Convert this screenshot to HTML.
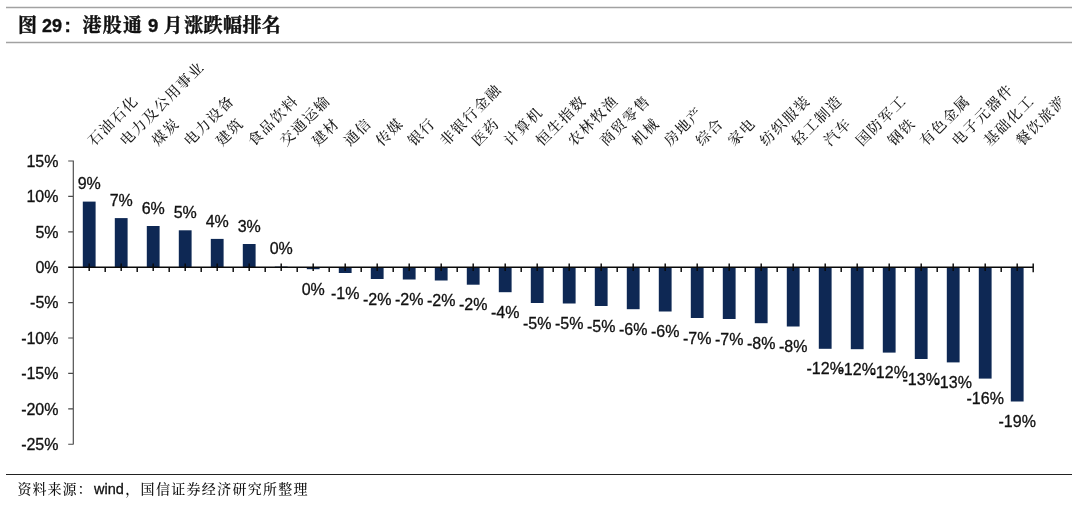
<!DOCTYPE html>
<html lang="zh">
<head>
<meta charset="utf-8">
<title>图 29: 港股通 9 月涨跌幅排名</title>
<style>
html,body{margin:0;padding:0;background:#fff;}
body{width:1080px;height:505px;position:relative;overflow:hidden;font-family:"Liberation Sans","Noto Serif CJK SC",sans-serif;color:#111;}
.title{position:absolute;left:0;top:12px;height:24px;line-height:24px;font-size:18px;font-weight:bold;white-space:nowrap;color:#111;}
.title span{position:absolute;top:0;-webkit-text-stroke:0.35px #111;}
.title .zh{font-family:"Noto Serif CJK SC",serif;font-weight:700;font-size:19px;letter-spacing:0.4px;-webkit-text-stroke:0.4px #111;}
.src{position:absolute;left:17.6px;top:478px;height:20px;line-height:20px;font-size:14.5px;white-space:nowrap;color:#111;}
.src .zh{font-family:"Noto Serif CJK SC",serif;font-size:14px;letter-spacing:1px;font-weight:500;}
.src .en{-webkit-text-stroke:0.3px #111;}
svg{position:absolute;left:0;top:0;}
.bars rect{fill:#0e2854;}
.ax{stroke:#0a0a0a;stroke-width:1.45;fill:none;}
.ay{stroke:#4a4a4a;stroke-width:1.15;fill:none;}
.val text{font-family:"Liberation Sans",sans-serif;font-size:16px;fill:#111;stroke:#111;stroke-width:0.3px;text-anchor:middle;}
.yl text{font-family:"Liberation Sans",sans-serif;font-size:16px;fill:#111;stroke:#111;stroke-width:0.3px;text-anchor:end;}
.cat text{font-family:"Noto Serif CJK SC",serif;font-size:14.5px;letter-spacing:1.5px;fill:#1c1c1c;font-weight:500;}
</style>
</head>
<body>
<div class="title"><span class="zh" style="left:18px">图</span><span style="left:42px;top:1.5px">29</span><span style="left:64.5px;top:1.5px;font-size:19px">:</span><span class="zh" style="left:82.5px;letter-spacing:1.2px">港股通</span><span style="left:148px;top:1.5px;font-size:18.5px">9</span><span class="zh" style="left:163.5px">月</span><span class="zh" style="left:184.2px">涨跌幅排名</span></div>
<svg width="1080" height="505" viewBox="0 0 1080 505">
<path d="M6 7.4H1072M6 42.4H1072" stroke="#a2a2a2" stroke-width="1.5" fill="none"/>
<path d="M6 474.4H1072" stroke="#222" stroke-width="1.05" fill="none"/>
<g class="bars">
<rect x="82.8" y="201.6" width="12.8" height="65.7"/>
<rect x="114.8" y="218.1" width="12.8" height="49.2"/>
<rect x="146.8" y="226.0" width="12.8" height="41.3"/>
<rect x="178.8" y="230.3" width="12.8" height="37.0"/>
<rect x="210.8" y="238.9" width="12.8" height="28.4"/>
<rect x="242.8" y="244.0" width="12.8" height="23.3"/>
<rect x="274.8" y="266.6" width="12.8" height="0.7"/>
<rect x="306.8" y="267.3" width="12.8" height="1.9"/>
<rect x="338.8" y="267.3" width="12.8" height="5.7"/>
<rect x="370.8" y="267.3" width="12.8" height="11.7"/>
<rect x="402.8" y="267.3" width="12.8" height="12.2"/>
<rect x="434.8" y="267.3" width="12.8" height="13.2"/>
<rect x="466.8" y="267.3" width="12.8" height="17.4"/>
<rect x="498.8" y="267.3" width="12.8" height="24.9"/>
<rect x="530.8" y="267.3" width="12.8" height="35.7"/>
<rect x="562.8" y="267.3" width="12.8" height="36.2"/>
<rect x="594.8" y="267.3" width="12.8" height="38.7"/>
<rect x="626.8" y="267.3" width="12.8" height="41.9"/>
<rect x="658.8" y="267.3" width="12.8" height="44.2"/>
<rect x="690.8" y="267.3" width="12.8" height="50.7"/>
<rect x="722.8" y="267.3" width="12.8" height="51.7"/>
<rect x="754.8" y="267.3" width="12.8" height="55.9"/>
<rect x="786.8" y="267.3" width="12.8" height="59.2"/>
<rect x="818.8" y="267.3" width="12.8" height="81.5"/>
<rect x="850.8" y="267.3" width="12.8" height="81.9"/>
<rect x="882.8" y="267.3" width="12.8" height="85.3"/>
<rect x="914.8" y="267.3" width="12.8" height="91.7"/>
<rect x="946.8" y="267.3" width="12.8" height="95.1"/>
<rect x="978.8" y="267.3" width="12.8" height="111.3"/>
<rect x="1010.8" y="267.3" width="12.8" height="134.2"/>
</g>
<path class="ay" d="M73.3 160.4V444.6M68.2 161.0H73.3M68.2 196.4H73.3M68.2 231.8H73.3M68.2 302.6H73.3M68.2 338.0H73.3M68.2 373.4H73.3M68.2 408.8H73.3M68.2 444.2H73.3"/>
<path class="ax" d="M68.2 267.3H1033.9M89.2 263.4V271.1M105.2 267.3V272M121.2 263.4V271.1M137.2 267.3V272M153.2 263.4V271.1M169.2 267.3V272M185.2 263.4V271.1M201.2 267.3V272M217.2 263.4V271.1M233.2 267.3V272M249.2 263.4V271.1M265.2 267.3V272M281.2 263.4V271.1M297.2 267.3V272M313.2 263.4V271.1M329.2 267.3V272M345.2 263.4V271.1M361.2 267.3V272M377.2 263.4V271.1M393.2 267.3V272M409.2 263.4V271.1M425.2 267.3V272M441.2 263.4V271.1M457.2 267.3V272M473.2 263.4V271.1M489.2 267.3V272M505.2 263.4V271.1M521.2 267.3V272M537.2 263.4V271.1M553.2 267.3V272M569.2 263.4V271.1M585.2 267.3V272M601.2 263.4V271.1M617.2 267.3V272M633.2 263.4V271.1M649.2 267.3V272M665.2 263.4V271.1M681.2 267.3V272M697.2 263.4V271.1M713.2 267.3V272M729.2 263.4V271.1M745.2 267.3V272M761.2 263.4V271.1M777.2 267.3V272M793.2 263.4V271.1M809.2 267.3V272M825.2 263.4V271.1M841.2 267.3V272M857.2 263.4V271.1M873.2 267.3V272M889.2 263.4V271.1M905.2 267.3V272M921.2 263.4V271.1M937.2 267.3V272M953.2 263.4V271.1M969.2 267.3V272M985.2 263.4V271.1M1001.2 267.3V272M1017.2 263.4V271.1M1033.2 263.4V272.2"/>
<g class="val">
<text x="89.2" y="189.3">9%</text>
<text x="121.2" y="205.8">7%</text>
<text x="153.2" y="213.7">6%</text>
<text x="185.2" y="218.0">5%</text>
<text x="217.2" y="226.6">4%</text>
<text x="249.2" y="231.7">3%</text>
<text x="281.2" y="254.3">0%</text>
<text x="313.2" y="294.7">0%</text>
<text x="345.2" y="298.5">-1%</text>
<text x="377.2" y="304.5">-2%</text>
<text x="409.2" y="305.0">-2%</text>
<text x="441.2" y="306.0">-2%</text>
<text x="473.2" y="310.2">-2%</text>
<text x="505.2" y="317.8">-4%</text>
<text x="537.2" y="328.5">-5%</text>
<text x="569.2" y="329.0">-5%</text>
<text x="601.2" y="331.5">-5%</text>
<text x="633.2" y="334.8">-6%</text>
<text x="665.2" y="337.0">-6%</text>
<text x="697.2" y="343.5">-7%</text>
<text x="729.2" y="344.5">-7%</text>
<text x="761.2" y="348.8">-8%</text>
<text x="793.2" y="352.0">-8%</text>
<text x="825.2" y="374.3">-12%</text>
<text x="857.2" y="374.7">-12%</text>
<text x="889.2" y="378.1">-12%</text>
<text x="921.2" y="384.5">-13%</text>
<text x="953.2" y="387.9">-13%</text>
<text x="985.2" y="404.1">-16%</text>
<text x="1017.2" y="427.0">-19%</text>
</g>
<g class="yl">
<text x="58.5" y="166.7">15%</text>
<text x="58.5" y="202.1">10%</text>
<text x="58.5" y="237.5">5%</text>
<text x="58.5" y="272.9">0%</text>
<text x="58.5" y="308.3">-5%</text>
<text x="58.5" y="343.7">-10%</text>
<text x="58.5" y="379.1">-15%</text>
<text x="58.5" y="414.5">-20%</text>
<text x="58.5" y="449.9">-25%</text>
</g>
<clipPath id="cc"><rect x="0" y="44" width="1060.5" height="120"/></clipPath>
<g class="cat" clip-path="url(#cc)">
<text transform="translate(94.0 146.8) rotate(-45)">石油石化</text>
<text transform="translate(126.0 146.8) rotate(-45)">电力及公用事业</text>
<text transform="translate(158.0 146.8) rotate(-45)">煤炭</text>
<text transform="translate(190.0 146.8) rotate(-45)">电力设备</text>
<text transform="translate(222.0 146.8) rotate(-45)">建筑</text>
<text transform="translate(254.0 146.8) rotate(-45)">食品饮料</text>
<text transform="translate(286.0 146.8) rotate(-45)">交通运输</text>
<text transform="translate(318.0 146.8) rotate(-45)">建材</text>
<text transform="translate(350.0 146.8) rotate(-45)">通信</text>
<text transform="translate(382.0 146.8) rotate(-45)">传媒</text>
<text transform="translate(414.0 146.8) rotate(-45)">银行</text>
<text transform="translate(446.0 146.8) rotate(-45)">非银行金融</text>
<text transform="translate(478.0 146.8) rotate(-45)">医药</text>
<text transform="translate(510.0 146.8) rotate(-45)">计算机</text>
<text transform="translate(542.0 146.8) rotate(-45)">恒生指数</text>
<text transform="translate(574.0 146.8) rotate(-45)">农林牧渔</text>
<text transform="translate(606.0 146.8) rotate(-45)">商贸零售</text>
<text transform="translate(638.0 146.8) rotate(-45)">机械</text>
<text transform="translate(670.0 146.8) rotate(-45)">房地产</text>
<text transform="translate(702.0 146.8) rotate(-45)">综合</text>
<text transform="translate(734.0 146.8) rotate(-45)">家电</text>
<text transform="translate(766.0 146.8) rotate(-45)">纺织服装</text>
<text transform="translate(798.0 146.8) rotate(-45)">轻工制造</text>
<text transform="translate(830.0 146.8) rotate(-45)">汽车</text>
<text transform="translate(862.0 146.8) rotate(-45)">国防军工</text>
<text transform="translate(894.0 146.8) rotate(-45)">钢铁</text>
<text transform="translate(926.0 146.8) rotate(-45)">有色金属</text>
<text transform="translate(958.0 146.8) rotate(-45)">电子元器件</text>
<text transform="translate(990.0 146.8) rotate(-45)">基础化工</text>
<text transform="translate(1022.0 146.8) rotate(-45)">餐饮旅游</text>
</g>
</svg>
<div class="src"><span class="zh">资料来源：</span><span class="en" style="margin-left:1.5px">wind</span><span class="zh" style="margin-left:1.4px;letter-spacing:1.3px">，国信证券经济研究所整理</span></div>
</body>
</html>
